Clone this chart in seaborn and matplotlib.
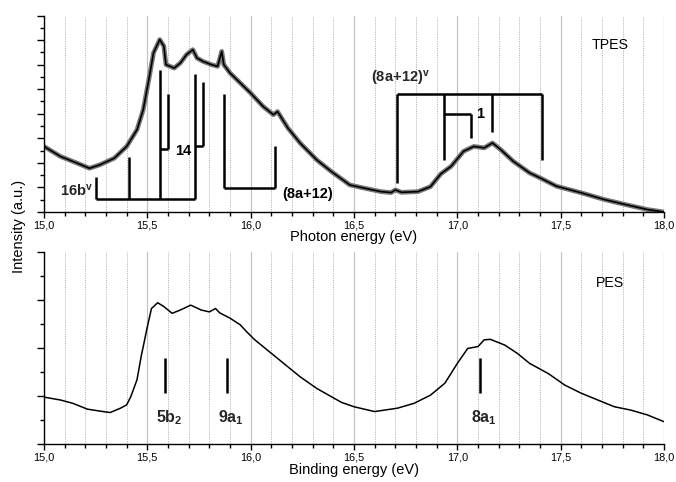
import matplotlib
matplotlib.use("Agg")
import matplotlib.pyplot as plt
from matplotlib.ticker import MultipleLocator
import seaborn as sns
import pandas as pd

# ---------------- data ----------------
tpes_energy = [15.00, 15.08, 15.16, 15.22, 15.27, 15.34, 15.40, 15.45, 15.48, 15.51,
               15.53, 15.56, 15.58, 15.59, 15.63, 15.66, 15.69, 15.72, 15.74, 15.77,
               15.81, 15.84, 15.86, 15.87, 15.90, 15.95, 16.00, 16.06, 16.11, 16.13,
               16.18, 16.24, 16.32, 16.39, 16.48, 16.55, 16.63, 16.68, 16.70, 16.73,
               16.81, 16.87, 16.92, 16.97, 17.03, 17.08, 17.13, 17.17, 17.21, 17.27,
               17.35, 17.40, 17.48, 17.60, 17.71, 17.81, 17.92, 18.00]
tpes_intensity = [2.67, 2.26, 1.99, 1.78, 1.92, 2.19, 2.67, 3.35, 4.16, 5.52,
                  6.48, 7.02, 6.75, 6.00, 5.86, 6.07, 6.41, 6.61, 6.27, 6.13,
                  6.00, 5.93, 6.54, 6.00, 5.66, 5.25, 4.84, 4.30, 3.96, 4.09,
                  3.42, 2.80, 2.12, 1.65, 1.10, 0.97, 0.83, 0.79, 0.90, 0.80,
                  0.83, 1.03, 1.55, 1.86, 2.47, 2.67, 2.61, 2.81, 2.54, 2.07,
                  1.59, 1.39, 1.05, 0.78, 0.51, 0.31, 0.10, 0.00]

pes_energy = [15.00, 15.08, 15.14, 15.21, 15.27, 15.32, 15.37, 15.40, 15.42, 15.45,
              15.47, 15.50, 15.52, 15.55, 15.58, 15.62, 15.66, 15.71, 15.76, 15.80,
              15.83, 15.85, 15.90, 15.95, 15.98, 16.02, 16.08, 16.16, 16.24, 16.32,
              16.39, 16.44, 16.50, 16.60, 16.71, 16.79, 16.87, 16.94, 17.00, 17.05,
              17.10, 17.13, 17.16, 17.23, 17.29, 17.35, 17.44, 17.52, 17.60, 17.68,
              17.76, 17.84, 17.92, 18.00]
pes_intensity = [0.98, 0.92, 0.85, 0.73, 0.69, 0.66, 0.75, 0.82, 0.99, 1.34,
                 1.82, 2.44, 2.82, 2.94, 2.86, 2.72, 2.79, 2.89, 2.79, 2.75,
                 2.82, 2.73, 2.62, 2.48, 2.34, 2.17, 1.96, 1.68, 1.40, 1.16,
                 0.99, 0.87, 0.78, 0.68, 0.75, 0.85, 1.02, 1.27, 1.68, 1.99,
                 2.03, 2.17, 2.18, 2.06, 1.89, 1.68, 1.47, 1.23, 1.06, 0.92,
                 0.78, 0.71, 0.61, 0.47]

# assignment ladders (energies, eV) in the TPES panel
prog_16b = [15.25, 15.41, 15.56, 15.73]
prog_16b_tops = [1.44, 2.22, 5.80, 5.63]
prog_14_starts = [15.56, 15.73]
prog_14_ends = [15.60, 15.77]
prog_14_tops = [4.82, 5.29]
prog_14_levels = [2.56, 2.67]
prog_8a12 = [15.87, 16.12]
prog_8a12_tops = [4.82, 2.67]
prog_8a12v = [16.71, 16.935, 17.17, 17.41]
prog_8a12v_bottoms = [1.20, 2.12, 3.24, 2.12]
prog_1 = [16.935, 17.065]

# PES orbital markers
pes_marks = [15.585, 15.885, 17.11]
pes_labels = [r"$\mathbf{5b_2}$", r"$\mathbf{9a_1}$", r"$\mathbf{8a_1}$"]

x_ticks = [15.0, 15.5, 16.0, 16.5, 17.0, 17.5, 18.0]
x_tick_labels = ["15,0", "15,5", "16,0", "16,5", "17,0", "17,5", "18,0"]

# ---------------- style ----------------
sns.set_theme(style="ticks")
plt.rcParams["font.family"] = ["Liberation Sans", "DejaVu Sans"]
plt.rcParams["mathtext.fontset"] = "custom"
plt.rcParams["mathtext.rm"] = "Liberation Sans"
plt.rcParams["mathtext.it"] = "Liberation Sans"
plt.rcParams["mathtext.bf"] = "Liberation Sans:bold"

fig = plt.figure(figsize=(6.76, 4.82), dpi=100)
ax1 = fig.add_axes([0.0651, 0.5602, 0.9171, 0.4076])
ax2 = fig.add_axes([0.0651, 0.0782, 0.9171, 0.3996])

tpes = pd.DataFrame({"E": tpes_energy, "I": tpes_intensity})
pes = pd.DataFrame({"E": pes_energy, "I": pes_intensity})

sns.lineplot(data=tpes, x="E", y="I", ax=ax1, color="#777777", lw=3.4, sort=False)
sns.lineplot(data=tpes, x="E", y="I", ax=ax1, color="black", lw=1.2, sort=False)
sns.lineplot(data=pes, x="E", y="I", ax=ax2, color="black", lw=1.1, sort=False)


def style_axis(ax, ymax, xlabel):
    ax.set_xlim(15.0, 18.0)
    ax.set_ylim(0, ymax)
    ax.xaxis.set_minor_locator(MultipleLocator(0.1))
    ax.yaxis.set_major_locator(MultipleLocator(1))
    ax.yaxis.set_minor_locator(MultipleLocator(0.5))
    ax.set_xticks(x_ticks)
    ax.set_xticklabels(x_tick_labels, fontsize=7.8, color="black")
    ax.set_yticklabels([])
    ax.grid(which="major", axis="x", color="#c4c4c4", lw=0.9, ls="-")
    ax.grid(which="minor", axis="x", color="#b8b8b8", lw=0.7, ls=(0, (1.2, 1.2)))
    ax.grid(which="major", axis="y", visible=False)
    ax.set_axisbelow(True)
    for s in ["top", "right"]:
        ax.spines[s].set_visible(False)
    for s in ["left", "bottom"]:
        ax.spines[s].set_color("black")
        ax.spines[s].set_linewidth(1.0)
    ax.tick_params(axis="x", which="major", direction="out", length=4, width=1,
                   colors="black", pad=2)
    ax.tick_params(axis="x", which="minor", direction="out", length=3, width=1, colors="black")
    ax.tick_params(axis="y", which="major", direction="out", length=5, width=1, colors="black")
    ax.tick_params(axis="y", which="minor", direction="out", length=3, width=1, colors="black")
    ax.set_xlabel(xlabel, fontsize=10.5, labelpad=0, color="black")
    ax.set_ylabel("")


style_axis(ax1, 8, "Photon energy (eV)")
style_axis(ax2, 4, "Binding energy (eV)")

lk = dict(color="black", lw=1.8, solid_capstyle="butt")
bold = dict(fontsize=10.5, fontweight="bold", color="black")

# 16b^v ladder
ax1.plot([prog_16b[0], prog_16b[-1]], [0.52, 0.52], **lk)
for e, t in zip(prog_16b, prog_16b_tops):
    ax1.plot([e, e], [0.52, t], **lk)
ax1.text(15.235, 0.55, r"$\mathbf{16b^{v}}$", ha="right", va="bottom", fontsize=10.5)

# 14 ladders
for s, e, t, lv in zip(prog_14_starts, prog_14_ends, prog_14_tops, prog_14_levels):
    ax1.plot([s, e], [lv, lv], **lk)
    ax1.plot([e, e], [lv, t], **lk)
ax1.text(15.675, 2.5, "14", ha="center", va="center", **bold)

# (8a+12) ladder
ax1.plot([prog_8a12[0], prog_8a12[1]], [0.99, 0.99], **lk)
ax1.plot([prog_8a12[0], prog_8a12[0]], [0.99, prog_8a12_tops[0]], **lk)
ax1.plot([prog_8a12[1], prog_8a12[1]], [0.99, prog_8a12_tops[1]], **lk)
ax1.text(16.155, 0.73, "(8a+12)", ha="left", va="center", **bold)

# (8a+12)^v ladder
ax1.plot([prog_8a12v[0], prog_8a12v[-1]], [4.80, 4.80], **lk)
for e, b in zip(prog_8a12v, prog_8a12v_bottoms):
    ax1.plot([e, e], [b, 4.80], **lk)
ax1.text(16.58, 5.05, r"$\mathbf{(8a\!+\!12)^{v}}$", ha="left", va="bottom", fontsize=10.5)

# 1 ladder
ax1.plot([prog_1[0], prog_1[1]], [4.0, 4.0], **lk)
ax1.plot([prog_1[1], prog_1[1]], [4.0, 3.01], **lk)
ax1.text(17.09, 4.0, "1", ha="left", va="center", **bold)

ax1.text(17.74, 6.8, "TPES", ha="center", va="center", fontsize=10.2, color="black")

# PES markers
for e, lab in zip(pes_marks, pes_labels):
    ax2.plot([e, e], [1.06, 1.79], **lk)
    ax2.text(e + 0.02, 0.55, lab, ha="center", va="center", fontsize=11.5)
ax2.text(17.74, 3.36, "PES", ha="center", va="center", fontsize=10.2, color="black")

fig.text(0.028, 0.531, "Intensity (a.u.)", rotation=90, ha="center", va="center",
         fontsize=10.5, color="black")

fig.savefig("out.png", dpi=100)
